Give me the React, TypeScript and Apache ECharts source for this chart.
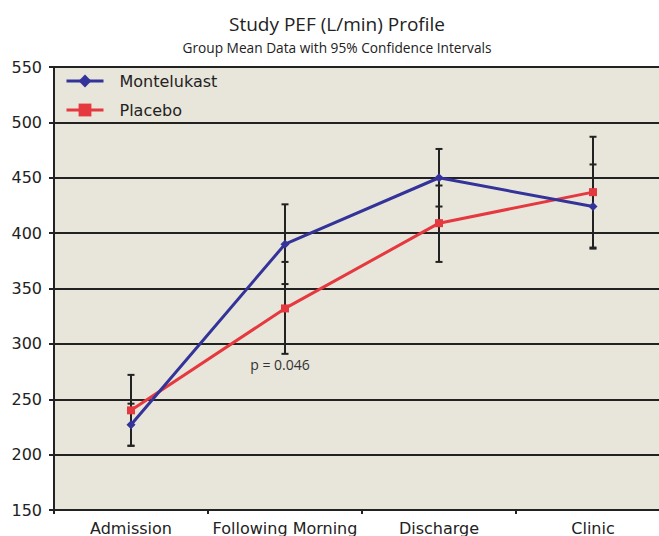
import React, { useEffect, useRef } from "react";
import * as echarts from "echarts";

const categories = ["Admission", "Following Morning", "Discharge", "Clinic"];
const montelukastMean = [227, 390, 450, 424];
const montelukastLower = [208, 354, 424, 386];
const montelukastUpper = [246, 426, 476, 462];
const placeboMean = [240, 332, 409, 437];
const placeboLower = [208, 291, 374, 387];
const placeboUpper = [272, 374, 443, 487];
const pValueLabel = "p = 0.046";
const pValuePosition = [1, 281];

const BLUE = "#33339A";
const RED = "#E5383F";
const INK = "#222222";
const AXIS_FONT = "DejaVu Sans";
const TITLE_FONT = "Open Sans";

function errorBarData(lower: number[], upper: number[]) {
  return categories.map((_, i) => [i, lower[i], upper[i]]);
}

function renderErrorBar(params: any, api: any) {
  const x = api.value(0);
  const lo = api.coord([x, api.value(1)]);
  const hi = api.coord([x, api.value(2)]);
  const w = 3.5;
  const style = { stroke: INK, lineWidth: 2 };
  return {
    type: "group",
    children: [
      { type: "line", shape: { x1: lo[0], y1: lo[1], x2: hi[0], y2: hi[1] }, style },
      { type: "line", shape: { x1: lo[0] - w, y1: lo[1], x2: lo[0] + w, y2: lo[1] }, style },
      { type: "line", shape: { x1: hi[0] - w, y1: hi[1], x2: hi[0] + w, y2: hi[1] }, style },
    ],
  };
}

export default function App() {
  const ref = useRef<HTMLDivElement>(null);

  useEffect(() => {
    if (!ref.current) return;
    const chart = echarts.init(ref.current, null, { renderer: "svg" });
    chart.setOption({
      animation: false,
      backgroundColor: "#ffffff",
      graphic: [
        {
          type: "text",
          x: 337,
          y: 24,
          style: {
            text: "Study PEF (L/min) Profile",
            fontFamily: TITLE_FONT,
            fontSize: 19,
            fill: "#222",
            textAlign: "center",
            textVerticalAlign: "middle",
          },
        },
        {
          type: "text",
          x: 337,
          y: 47,
          style: {
            text: "Group Mean Data with 95% Confidence Intervals",
            fontFamily: TITLE_FONT,
            fontSize: 13.7,
            fill: "#222",
            textAlign: "center",
            textVerticalAlign: "middle",
          },
        },
      ],
      legend: {
        data: ["Montelukast", "Placebo"],
        orient: "vertical",
        left: 60,
        top: 68,
        itemWidth: 37,
        itemHeight: 16,
        itemGap: 13,
        lineStyle: { width: 3 },
        textStyle: {
          fontFamily: AXIS_FONT,
          fontSize: 16,
          color: "#222",
          padding: [0, 0, 0, 11],
        },
      },
      grid: {
        left: 54,
        right: 0,
        top: 67,
        bottom: 26,
        show: true,
        backgroundColor: "#E8E5DA",
        borderWidth: 0,
      },
      xAxis: {
        type: "category",
        data: categories,
        boundaryGap: true,
        axisLine: { lineStyle: { color: INK, width: 2 } },
        axisTick: { show: true, length: 4, lineStyle: { color: INK, width: 2 } },
        axisLabel: {
          fontFamily: AXIS_FONT,
          fontSize: 16,
          color: "#222",
          margin: 10,
          interval: 0,
        },
        splitLine: { show: false },
      },
      yAxis: {
        type: "value",
        min: 150,
        max: 550,
        interval: 50,
        axisLine: { show: true, lineStyle: { color: INK, width: 2 } },
        axisTick: { show: true, length: 5, lineStyle: { color: INK, width: 2 } },
        axisLabel: {
          fontFamily: AXIS_FONT,
          fontSize: 16,
          color: "#222",
          margin: 12,
        },
        splitLine: { show: true, lineStyle: { color: INK, width: 2 } },
      },
      series: [
        {
          type: "custom",
          renderItem: renderErrorBar,
          data: errorBarData(montelukastLower, montelukastUpper),
          encode: { x: 0, y: [1, 2] },
          z: 1,
        },
        {
          type: "custom",
          renderItem: renderErrorBar,
          data: errorBarData(placeboLower, placeboUpper),
          encode: { x: 0, y: [1, 2] },
          z: 1,
        },
        {
          name: "Montelukast",
          type: "line",
          data: montelukastMean,
          symbol: "diamond",
          symbolSize: 9,
          itemStyle: { color: BLUE },
          lineStyle: { color: BLUE, width: 3 },
          z: 3,
        },
        {
          name: "Placebo",
          type: "line",
          data: placeboMean,
          symbol: "rect",
          symbolSize: 8,
          itemStyle: { color: RED },
          lineStyle: { color: RED, width: 3 },
          z: 2,
          markPoint: {
            symbol: "circle",
            symbolSize: 1,
            itemStyle: { color: "rgba(0,0,0,0)" },
            data: [
              {
                coord: pValuePosition,
                value: pValueLabel,
              },
            ],
            label: {
              show: true,
              formatter: pValueLabel,
              position: "inside",
              offset: [-5, 0],
              fontFamily: TITLE_FONT,
              fontSize: 14,
              color: "#333",
            },
          },
        },
      ],
    });
    return () => chart.dispose();
  }, []);

  return (
    <div
      style={{
        position: "fixed",
        left: 0,
        top: 0,
        width: 659,
        height: 536,
        overflow: "hidden",
        background: "#fff",
      }}
    >
      <div ref={ref} style={{ width: 670, height: 536 }} />
    </div>
  );
}
